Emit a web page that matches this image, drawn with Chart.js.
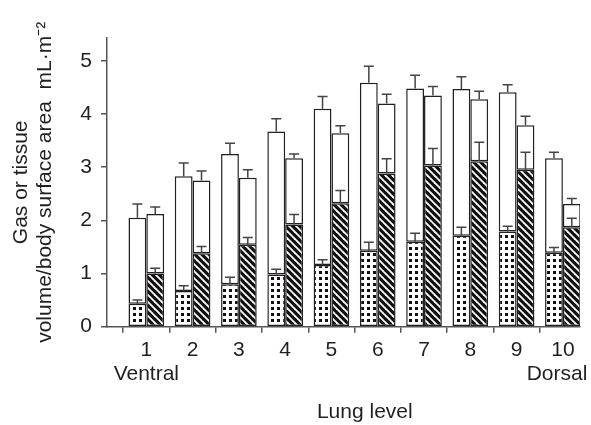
<!DOCTYPE html>
<html>
<head>
<meta charset="utf-8">
<script src="https://cdn.jsdelivr.net/npm/chart.js@4.4.0/dist/chart.umd.min.js"></script>
<style>
  html, body { margin: 0; padding: 0; background: #fff; }
  #wrap { width: 591px; height: 425px; }
</style>
</head>
<body>
<div id="wrap"><canvas id="chart"></canvas></div>
<script>
const levels = [1, 2, 3, 4, 5, 6, 7, 8, 9, 10];
const tickLabels = [['1', 'Ventral'], '2', '3', '4', '5', '6', '7', '8', '9', ['10', 'Dorsal  ']];
const yTicks = [0, 1, 2, 3, 4, 5];

// left bar of each pair: tissue (dotted) + gas (white)
const tissueLeft = [0.43, 0.67, 0.80, 0.98, 1.16, 1.43, 1.60, 1.71, 1.79, 1.39];
const gasLeft = [1.62, 2.16, 2.45, 2.69, 2.94, 3.16, 2.88, 2.76, 2.62, 1.78];
// right bar of each pair: tissue (hatched) + gas (white)
const tissueRight = [1.00, 1.38, 1.54, 1.92, 2.32, 2.88, 3.03, 3.11, 2.95, 1.87];
const gasRight = [1.12, 1.37, 1.26, 1.25, 1.32, 1.32, 1.32, 1.17, 0.84, 0.44];

// upper error bars (SD)
const errTissueLeft = [0.07, 0.10, 0.13, 0.10, 0.10, 0.16, 0.16, 0.16, 0.10, 0.10];
const errGasLeft = [0.26, 0.25, 0.20, 0.24, 0.23, 0.31, 0.25, 0.23, 0.14, 0.11];
const errTissueRight = [0.10, 0.13, 0.14, 0.19, 0.24, 0.28, 0.32, 0.36, 0.33, 0.17];
const errGasRight = [0.13, 0.18, 0.15, 0.08, 0.14, 0.17, 0.17, 0.15, 0.17, 0.10];

const FONT = '"Liberation Sans", Arial, sans-serif';
const INK = '#231f20';

function dotPattern() {
  const c = document.createElement('canvas');
  c.width = 6; c.height = 6;
  const g = c.getContext('2d');
  g.fillStyle = '#fff';
  g.fillRect(0, 0, 6, 6);
  g.fillStyle = '#111';
  g.fillRect(1, 1, 3, 3);
  return g.createPattern(c, 'repeat');
}

function hatchPattern() {
  const c = document.createElement('canvas');
  c.width = 7; c.height = 7;
  const g = c.getContext('2d');
  g.fillStyle = '#111';
  g.fillRect(0, 0, 7, 7);
  g.strokeStyle = '#fff';
  g.lineWidth = 1.8;
  [-7, 0, 7].forEach(o => {
    g.beginPath();
    g.moveTo(o - 1, -1);
    g.lineTo(o + 8, 8);
    g.stroke();
  });
  return g.createPattern(c, 'repeat');
}

const pts = arr => levels.map((l, i) => ({x: l, y: arr[i]}));

const errorBars = {
  id: 'errorBars',
  afterDatasetsDraw(chart) {
    const {ctx, scales: {y}} = chart;
    ctx.save();
    ctx.strokeStyle = '#444';
    ctx.lineWidth = 1.5;
    chart.data.datasets.forEach((ds, i) => {
      chart.getDatasetMeta(i).data.forEach((bar, j) => {
        const len = y.getPixelForValue(0) - y.getPixelForValue(ds.errors[j]);
        const top = bar.y - len;
        ctx.beginPath();
        ctx.moveTo(bar.x, bar.y);
        ctx.lineTo(bar.x, top);
        ctx.moveTo(bar.x - 5, top);
        ctx.lineTo(bar.x + 5, top);
        ctx.stroke();
      });
    });
    ctx.restore();
  }
};

const xTitle = {
  id: 'xTitle',
  afterDraw(chart) {
    const {ctx, scales: {x}} = chart;
    ctx.save();
    ctx.font = '21px ' + FONT;
    ctx.fillStyle = INK;
    ctx.textAlign = 'center';
    ctx.textBaseline = 'alphabetic';
    ctx.fillText('Lung level', x.getPixelForValue(5.72), 418);
    ctx.restore();
  }
};

const ctx = document.getElementById('chart').getContext('2d');
const bar = {borderColor: INK, borderWidth: 1.5, borderSkipped: false};

new Chart(ctx, {
  type: 'bar',
  data: {
    datasets: [
      {...bar, label: 'Tissue', stack: 'L', data: pts(tissueLeft), errors: errTissueLeft, backgroundColor: dotPattern()},
      {...bar, label: 'Gas', stack: 'L', data: pts(gasLeft), errors: errGasLeft, backgroundColor: '#fff'},
      {...bar, label: 'Tissue', stack: 'R', data: pts(tissueRight), errors: errTissueRight, backgroundColor: hatchPattern()},
      {...bar, label: 'Gas', stack: 'R', data: pts(gasRight), errors: errGasRight, backgroundColor: '#fff'},
    ],
  },
  options: {
    responsive: true,
    maintainAspectRatio: false,
    animation: false,
    categoryPercentage: 0.77,
    barPercentage: 1,
    layout: {
      padding: {left: 4, right: 11, top: 38, bottom: 34},
    },
    plugins: {
      legend: {display: false},
      tooltip: {enabled: false},
    },
    scales: {
      x: {
        type: 'linear',
        offset: false,
        min: 0.15,
        max: 10.37,
        afterBuildTicks: axis => { axis.ticks = levels.map(v => ({value: v})); },
        afterFit: axis => { axis.paddingLeft = 0; axis.paddingRight = 0; },
        grid: {drawOnChartArea: false, drawTicks: true, tickLength: 6, color: '#555', lineWidth: 1.5},
        border: {display: true, color: '#555', width: 1.5},
        ticks: {
          color: INK,
          padding: 5,
          maxRotation: 0,
          autoSkip: false,
          font: {family: FONT, size: 21, lineHeight: 1.15},
          callback: v => tickLabels[v - 1],
        },
      },
      y: {
        stacked: true,
        min: 0,
        max: 5.43,
        afterBuildTicks: axis => { axis.ticks = yTicks.map(v => ({value: v})); },
        grid: {drawOnChartArea: false, drawTicks: true, tickLength: 6, color: '#555', lineWidth: 1.5},
        border: {display: true, color: '#555', width: 1.5},
        ticks: {
          color: INK,
          padding: 9,
          font: {family: FONT, size: 21},
        },
        title: {
          display: true,
          text: ['Gas or tissue', 'volume/body surface area  mL\u00b7m\u207b\u00b2'],
          color: INK,
          padding: {top: 5, bottom: 14},
          font: {family: FONT, size: 21, lineHeight: 1.15},
        },
      },
    },
  },
  plugins: [errorBars, xTitle],
});
</script>
</body>
</html>
